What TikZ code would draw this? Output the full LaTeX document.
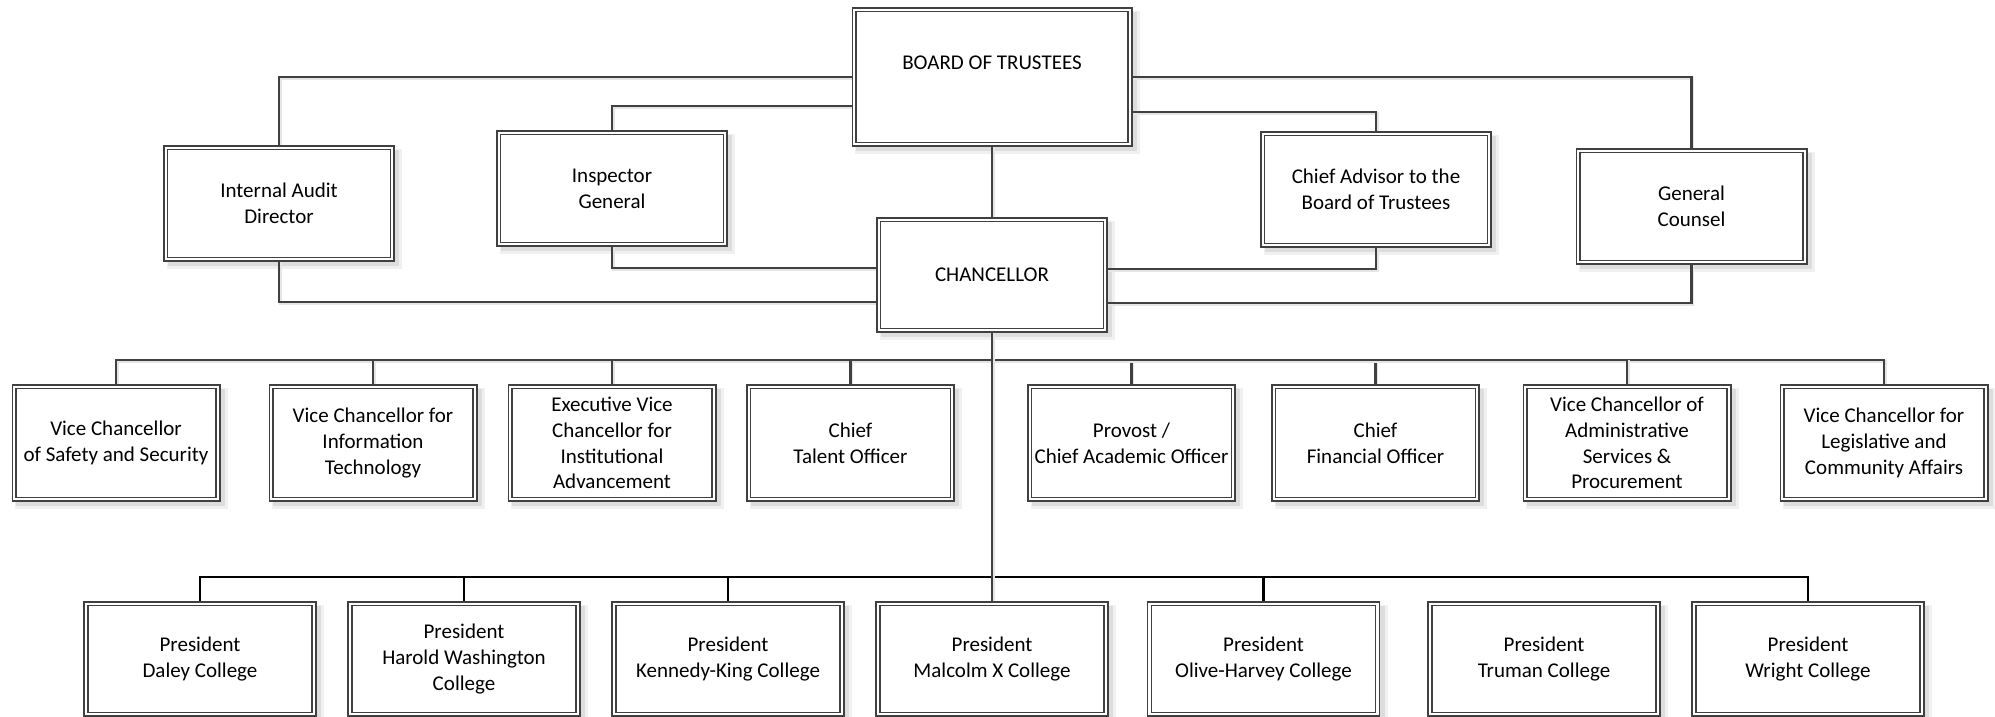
\documentclass[tikz,border=0pt]{standalone}
\usepackage{fontspec}
\setmainfont{Carlito}
\usetikzlibrary{calc}
\definecolor{linecol}{HTML}{404040}
\definecolor{shadowA}{HTML}{F0F0F0}
\definecolor{shadowB}{HTML}{DDDDDD}
\pgfdeclarelayer{shadowlayer}
\pgfdeclarelayer{edgelayer}
\pgfsetlayers{shadowlayer,edgelayer,main}
\tikzset{
  box/.style={draw=linecol, line width=1.6pt, double=white, double distance=2.2pt,
    fill=white, inner sep=0pt, outer sep=0pt, align=center,
    font=\fontsize{21}{25.7}\selectfont},
  topbox/.style={box, minimum width=226.6pt, minimum height=111.6pt},
  vcbox/.style={box, minimum width=203.6pt, minimum height=112.6pt},
  pbox/.style={box, minimum width=228.1pt, minimum height=110.6pt},
  conn/.style={draw=linecol, line width=2.5pt,
    preaction={draw=black!10, line width=2.5pt, transform canvas={shift={(1.5pt,-1.5pt)}}}},
  pconn/.style={draw=black, line width=2.6pt}
}
\begin{document}
\begin{tikzpicture}[x=1pt,y=-1pt]
\useasboundingbox (0,0) rectangle (1995,716);
% top level
\node[box, minimum width=275.6pt, minimum height=134.6pt] (board) at (992,77)
  {\raisebox{7.5pt}[0pt][0pt]{BOARD OF TRUSTEES}};
\node[topbox] (audit) at (279,203.5) {Internal Audit\\Director};
\node[topbox] (insp) at (612,188.5) {Inspector\\General};
\node[topbox] (advisor) at (1376,189.5) {Chief Advisor to the\\Board of Trustees};
\node[topbox] (counsel) at (1691.5,206.5) {General\\Counsel};
\node[box, minimum width=226.6pt, minimum height=110.6pt] (chanc) at (992,275) {CHANCELLOR};
% vice chancellors
\node[vcbox] (vc1) at (116,443) {Vice Chancellor\\of Safety and Security};
\node[vcbox] (vc2) at (373,443) {Vice Chancellor for\\Information\\Technology};
\node[vcbox] (vc3) at (612,443) {Executive Vice\\Chancellor for\\Institutional\\Advancement};
\node[vcbox] (vc4) at (850.5,443) {Chief\\Talent Officer};
\node[vcbox] (vc5) at (1131.5,443) {Provost /\\Chief Academic Officer};
\node[vcbox] (vc6) at (1375.5,443) {Chief\\Financial Officer};
\node[vcbox] (vc7) at (1627,443) {Vice Chancellor of\\Administrative\\Services \&\\Procurement};
\node[vcbox] (vc8) at (1884,443) {Vice Chancellor for\\Legislative and\\Community Affairs};
% presidents
\node[pbox] (p1) at (200,659) {President\\Daley College};
\node[pbox] (p2) at (464,659) {President\\Harold Washington\\College};
\node[pbox] (p3) at (728,659) {President\\Kennedy-King College};
\node[pbox] (p4) at (992,659) {President\\Malcolm X College};
\node[pbox] (p5) at (1263.5,659) {President\\Olive-Harvey College};
\node[pbox] (p6) at (1544,659) {President\\Truman College};
\node[pbox] (p7) at (1808,659) {President\\Wright College};
\coordinate (vbus) at (992,360);
\coordinate (pbus) at (992,577);
\begin{pgfonlayer}{shadowlayer}
\foreach \n in {board,audit,insp,advisor,counsel,chanc,vc1,vc2,vc3,vc4,vc5,vc6,vc7,vc8,p1,p2,p3,p4,p5,p6,p7}{
  \fill[shadowA] ([shift={(1,10)}]\n.south west) rectangle ([shift={(10,1)}]\n.north east);
  \fill[shadowB] ([shift={(2,7)}]\n.south west) rectangle ([shift={(7,2)}]\n.north east);
}
\end{pgfonlayer}
\begin{pgfonlayer}{edgelayer}
\draw[conn] (board.west) -| (audit.north);
\draw[conn] ($(board.west)+(0,29)$) -| (insp.north);
\draw[conn] (board.east) -| (counsel.north);
\draw[conn] ($(board.east)+(0,35)$) -| (advisor.north);
\draw[conn] (board.south) -- (chanc.north);
\draw[conn] (insp.south) |- ($(chanc.west)+(0,-7)$);
\draw[conn] (audit.south) |- ($(chanc.west)+(0,27)$);
\draw[conn] (advisor.south) |- ($(chanc.east)+(0,-6)$);
\draw[conn] (counsel.south) |- ($(chanc.east)+(0,28)$);
\draw[conn] (vc1.north) |- (vbus) -| (vc8.north);
\foreach \n in {vc2,vc3,vc4,vc5,vc6,vc7}{\draw[conn] (vbus) -| (\n.north);}
\draw[pconn] (p1.north) |- (pbus) -| (p7.north);
\foreach \n in {p2,p3,p5}{\draw[pconn] (pbus) -| (\n.north);}
\draw[conn] (chanc.south) -- (p4.north);
\end{pgfonlayer}
\end{tikzpicture}
\end{document}
